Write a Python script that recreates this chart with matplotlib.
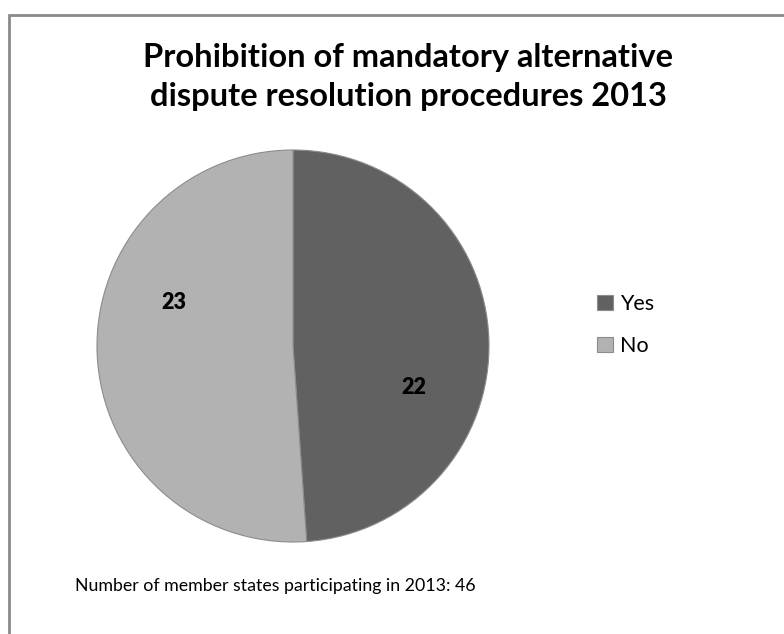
import matplotlib
matplotlib.use("Agg")
import matplotlib.pyplot as plt
from matplotlib.patches import Rectangle

categories = ["Yes", "No"]
values = [22, 23]
colors = ["#616161", "#b2b2b2"]
title = "Prohibition of mandatory alternative\ndispute resolution procedures 2013"
footnote = "Number of member states participating in 2013: 46"

W, H = 784, 634
fig = plt.figure(figsize=(W / 100, H / 100), dpi=100)
fig.patch.set_facecolor("white")

# border (left/top visible, right/bottom run off the image)
fig.patches.append(Rectangle((8.5 / W, -0.1), 1.2, 1.1 - 14.5 / H + 0.0,
                             transform=fig.transFigure, fill=False,
                             edgecolor="#8a8a8a", linewidth=2))

cx, cy, r = 293, 346, 196
ax = fig.add_axes([(cx - r) / W, (H - cy - r) / H, 2 * r / W, 2 * r / H])
wedges, _ = ax.pie(values, colors=colors, startangle=90, counterclock=False,
                   radius=1.0, wedgeprops=dict(edgecolor="#8c8c8c", linewidth=0.8))
ax.set_xlim(-1, 1)
ax.set_ylim(-1, 1)
ax.set_aspect("equal")
ax.axis("off")

# data labels
label_pos = [(0.615, -0.21), (-0.61, 0.22)]
for (x, y), v in zip(label_pos, values):
    ax.text(x, y, str(v), ha="center", va="center", fontsize=15.5,
            fontweight="heavy", family="Lato", color="black")

fig.text(408 / W, 1 - 77 / H, title, ha="center", va="center", fontsize=23.5,
         fontweight="bold", family="Lato", linespacing=1.45)

# legend
leg = fig.legend(wedges, categories, loc="center left",
                 bbox_to_anchor=(597 / W, 1 - 325 / H), frameon=False,
                 prop=dict(family="Lato", size=15.5), handlelength=0.72,
                 handleheight=0.72, handletextpad=0.35, labelspacing=1.0,
                 borderaxespad=0, borderpad=0)

fig.text(75 / W, 1 - 586 / H, footnote, ha="left", va="center", fontsize=12.8,
         family="Lato")

fig.savefig("out.png", dpi=100)
